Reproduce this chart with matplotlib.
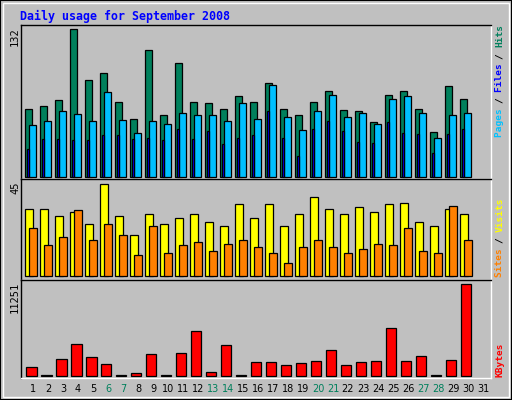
import matplotlib
matplotlib.use("Agg")
import matplotlib.pyplot as plt
from matplotlib.patches import Rectangle
import numpy as np

days = list(range(1, 31))
weekend = [6, 7, 13, 14, 20, 21, 27, 28]
hits = [61, 63, 69, 132, 87, 93, 67, 52, 114, 55, 102, 67, 66, 61, 72, 67, 84, 61, 55, 67, 77, 60, 59, 49, 73, 77, 61, 40, 81, 70]
files = [46, 50, 59, 56, 50, 76, 51, 39, 50, 47, 57, 55, 55, 50, 66, 52, 82, 54, 42, 59, 73, 54, 57, 47, 70, 72, 57, 35, 55, 57]
pages = [25, 34, 34, 33, 33, 37, 37, 34, 35, 33, 43, 34, 41, 29, 35, 37, 59, 35, 19, 43, 50, 41, 31, 30, 49, 39, 38, 21, 38, 43]
visits = [33, 33, 29.3, 31.3, 25.4, 45, 29.3, 20, 30.3, 25.4, 28.4, 30.3, 26.4, 24.5, 35.2, 28.4, 35.2, 24.5, 30.3, 39, 33, 30.3, 34, 31.3, 35.2, 36, 26.4, 24.5, 33, 30.3]
sites = [23.5, 15.2, 19, 32.3, 18, 25.4, 20, 10.3, 24.5, 11.2, 15.2, 17, 12.2, 16, 18, 14.2, 11.2, 6.4, 14.2, 18, 14.2, 11.2, 13.2, 16, 15.2, 23.5, 12.2, 11.2, 34.2, 18]
kbytes = [1027, 120, 2053, 3860, 2258, 1396, 120, 290, 2628, 120, 2751, 5461, 410, 3737, 120, 1642, 1642, 1273, 1519, 1766, 3121, 1273, 1642, 1766, 5831, 1766, 2382, 120, 1889, 11251]
ymax = [132, 45, 11251]

BG = "#C0C0C0"
fig = plt.figure(figsize=(5.12, 4.0), dpi=100, facecolor=BG)
W, H = 512, 400
fig.patches.append(Rectangle((0, 0), 1, 1, transform=fig.transFigure, fill=False, edgecolor="black", lw=1.5))
fig.patches.append(Rectangle((3/W, 3/H), 1-6/W, 1-6/H, transform=fig.transFigure, fill=False, edgecolor="white", lw=1))

def ax_at(top, bottom):
    a = fig.add_axes([20.7/W, 1-bottom/H, 470/W, (bottom-top)/H])
    a.set_facecolor(BG)
    a.set_xlim(0.693, 32.03)
    a.set_xticks([]); a.set_yticks([])
    for s in a.spines.values():
        s.set_color("white"); s.set_linewidth(1)
    a.spines['left'].set_color("black"); a.spines['top'].set_color("black")
    return a

x = np.array(days, dtype=float)
ek = dict(edgecolor="black", linewidth=0.9, align="edge")

a1 = ax_at(25, 179)
a1.set_ylim(-2, 136)
a1.bar(x, hits, 0.467, color="#00805C", **ek)
a1.bar(x + 0.267, files, 0.467, color="#00C0FF", **ek)
a1.bar(x + 0.113, pages, 0.16, color="#0000FF", **ek)

a2 = ax_at(179, 280)
a2.set_ylim(-1.8, 47.6)
a2.bar(x, visits, 0.533, color="#FFFF00", **ek)
a2.bar(x + 0.267, sites, 0.533, color="#FF8000", **ek)

a3 = ax_at(280, 378)
a3.set_ylim(-283, 11780)
a3.bar(x + 0.047, kbytes, 0.7, color="#FF0000", **ek)

mono = "DejaVu Sans Mono"
fig.text(20/W, 1-16/H, "Daily usage for September 2008", color="#0000FF", fontsize=8.4,
         fontweight="bold", family=mono, ha="left", va="center")

for v, top in zip(ymax, [27, 181, 282]):
    fig.text(15/W, 1-top/H, str(v), rotation=90, ha="center", va="top", fontsize=7.5, family=mono)

def stacked(xp, ybottom, segs):
    y = ybottom
    for txt, col in segs:
        fig.text(xp/W, 1-y/H, txt, rotation=90, ha="center", va="bottom", color=col,
                 fontsize=6.8, family=mono, fontweight="bold")
        y -= len(txt) * 5.6

stacked(500, 137, [("Pages ", "#00C0FF"), ("/ ", "black"), ("Files ", "#0000FF"), ("/ ", "black"), ("Hits", "#00805C")])
stacked(500, 277, [("Sites ", "#FF8000"), ("/ ", "black"), ("Visits", "#FFFF00")])
stacked(500, 377, [("KBytes", "#FF0000")])

for d in range(1, 32):
    px = 25.3 + 15 * (d - 1) + 7.7
    fig.text(px/W, 1-389/H, str(d), ha="center", va="center", fontsize=7,
             color="#00805C" if d in weekend else "black", family="DejaVu Sans")

fig.savefig("out.png", dpi=100, facecolor=BG)
